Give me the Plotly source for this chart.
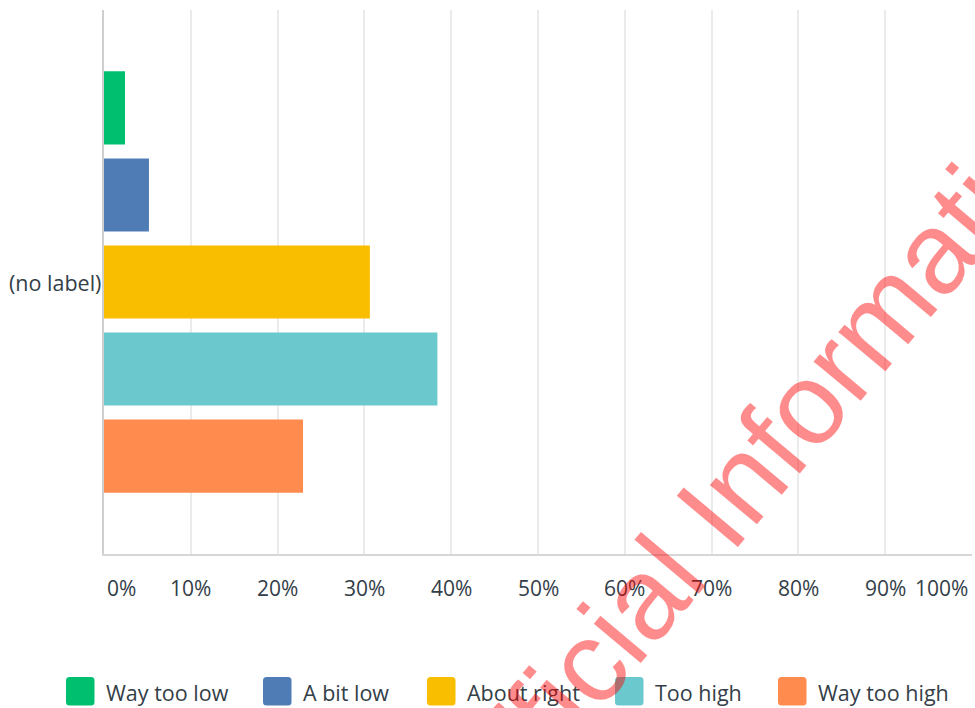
import plotly.graph_objects as go

# ---- data ----
categories = ["(no label)"]
series_names = ["Way too low", "A bit low", "About right", "Too high", "Way too high"]
series_values = [2.42, 5.18, 30.63, 38.41, 22.93]
series_colors = ["#00bf6f", "#507cb6", "#f9be00", "#6bc8cd", "#ff8b4f"]
tick_values = [0, 10, 20, 30, 40, 50, 60, 70, 80, 90, 100]
tick_labels = ["0%", "10%", "20%", "30%", "40%", "50%", "60%", "70%", "80%", "90%", "100%"]
watermark_text = "Official Information"

# ---- layout geometry (pixels) ----
W, H = 975, 708
L, R, T, B = 104, 972, 10, 554
TEXT = "#333e48"
FONT = "Open Sans"


def px(x):
    return (x - L) / (R - L)


def py(y):
    return (B - y) / (B - T)


fig = go.Figure()
# Plotly draws the first trace of a horizontal group at the bottom -> add reversed
for name, val, col in reversed(list(zip(series_names, series_values, series_colors))):
    fig.add_trace(go.Bar(
        y=categories, x=[val], name=name, orientation="h",
        marker=dict(color=col, line=dict(width=0)), showlegend=False,
    ))

annotations = []
shapes = []
# y category label
annotations.append(dict(
    x=px(103), xref="paper", y=categories[0], yref="y", text=categories[0],
    showarrow=False, xanchor="right", yanchor="middle",
    font=dict(family=FONT, size=21.5, color=TEXT),
))
# x tick labels
for v, t in zip(tick_values, tick_labels):
    if v == tick_values[0]:
        anc, sh = "left", 1
    elif v == tick_values[-1]:
        anc, sh = "right", -2
    else:
        anc, sh = "center", 0
    annotations.append(dict(
        x=v, xref="x", y=py(588), yref="paper", text=t, showarrow=False,
        xanchor=anc, yanchor="middle", xshift=sh,
        font=dict(family=FONT, size=21, color=TEXT),
    ))

# custom legend with large rounded squares
legend_x = [66, 263, 427, 615, 778]
sq = 28.5
sy0, sy1 = 677, 705.5
rad = 3.5
for name, col, x0 in zip(series_names, series_colors, legend_x):
    x1 = x0 + sq
    ax0, ax1 = px(x0), px(x1)
    ay0, ay1 = py(sy1), py(sy0)  # bottom, top in paper
    rx = rad / (R - L)
    ry = rad / (B - T)
    path = (
        f"M {ax0+rx},{ay0} L {ax1-rx},{ay0} Q {ax1},{ay0} {ax1},{ay0+ry} "
        f"L {ax1},{ay1-ry} Q {ax1},{ay1} {ax1-rx},{ay1} "
        f"L {ax0+rx},{ay1} Q {ax0},{ay1} {ax0},{ay1-ry} "
        f"L {ax0},{ay0+ry} Q {ax0},{ay0} {ax0+rx},{ay0} Z"
    )
    shapes.append(dict(type="path", xref="paper", yref="paper", path=path,
                       fillcolor=col, line=dict(width=0), layer="above"))
    annotations.append(dict(
        x=px(x1 + 9), xref="paper", y=py(692), yref="paper", text=name,
        showarrow=False, xanchor="left", yanchor="middle",
        font=dict(family=FONT, size=21.5, color=TEXT),
    ))

# watermark
annotations.append(dict(
    x=px(763), y=py(455), xref="paper", yref="paper", text=watermark_text,
    showarrow=False, textangle=-50, xanchor="center", yanchor="middle",
    font=dict(family="Liberation Sans", size=116, color="rgba(255,0,0,0.45)"),
))

fig.update_layout(
    width=W, height=H,
    margin=dict(l=L, r=W - R, t=T, b=H - B, pad=0),
    paper_bgcolor="white", plot_bgcolor="white",
    barmode="group", bargap=0.2, bargroupgap=0.16,
    showlegend=False,
    annotations=annotations, shapes=shapes,
    font=dict(family=FONT, size=20, color=TEXT),
)
fig.update_xaxes(
    range=[0, 100], tickvals=tick_values, showticklabels=False,
    showgrid=True, gridcolor="#ebebeb", gridwidth=1.5,
    zeroline=False, showline=True, linecolor="#d6d6d6", linewidth=1.5,
    ticks="", fixedrange=True,
)
fig.update_yaxes(
    showgrid=False, zeroline=False, showline=True, linecolor="#cfcfcf",
    linewidth=2, ticks="", showticklabels=False, fixedrange=True,
)

fig.write_html(
    "out.html",
    config={"displayModeBar": False},
    post_script="document.body.style.margin='0px';document.body.style.overflow='hidden';",
)
